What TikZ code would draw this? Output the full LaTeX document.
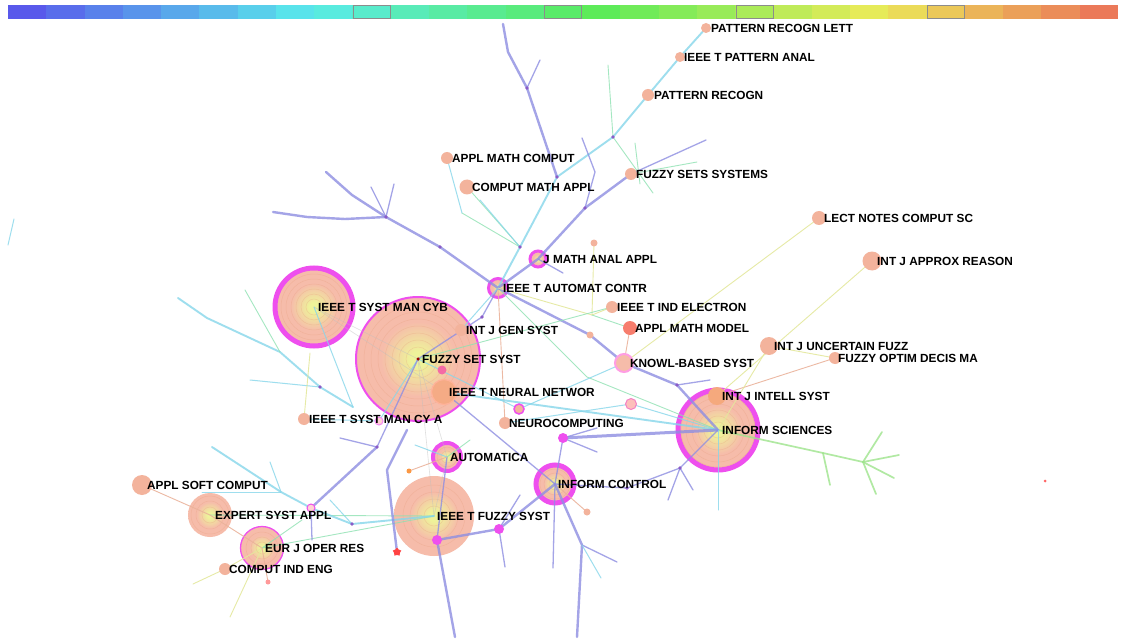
\documentclass[tikz,border=0pt]{standalone}
\usepackage{fontspec}
\setmainfont{Liberation Sans}
\usetikzlibrary{shapes.geometric}
\definecolor{peach}{HTML}{F6BCAA}
\definecolor{peachd}{HTML}{F3B39C}
\definecolor{ycen}{HTML}{EEF39A}
\definecolor{mag}{HTML}{EE4FEE}
\definecolor{epur}{HTML}{8E8EE2}
\definecolor{ecyan}{HTML}{86D6EA}
\definecolor{egrn}{HTML}{8EE2B2}
\definecolor{elgr}{HTML}{9EE48C}
\definecolor{eyel}{HTML}{E4E89C}
\definecolor{eora}{HTML}{EAB29A}
\definecolor{ringc}{HTML}{E8A080}
\definecolor{dotc}{HTML}{8A5CC8}
\pgfdeclareradialshading{treering}{\pgfpoint{0bp}{0bp}}{color(0bp)=(ycen); color(3bp)=(ycen); color(15bp)=(peach); color(50bp)=(peach)}
\pgfdeclarelayer{bg}
\pgfdeclarelayer{edgelayer}
\pgfsetlayers{bg,edgelayer,main}
\tikzset{
  jn/.style={circle, inner sep=0pt, fill=peachd},
  big/.style={circle, inner sep=0pt, shade, shading=treering},
  treeline/.style={draw=ringc, line width=0.5pt, opacity=0.35},
  lab/.style={anchor=west, inner sep=0pt, font=\bfseries\fontsize{11.8}{12}\selectfont, text=black},
  purp/.style={draw=epur, line width=2.4pt, line cap=round, line join=round, opacity=0.8},
  purpthin/.style={draw=epur, line width=1.3pt, line cap=round, line join=round, opacity=0.8},
  cyn/.style={draw=ecyan, line width=1.9pt, line cap=round, line join=round, opacity=0.8},
  cynthin/.style={draw=ecyan, line width=1pt, line cap=round, opacity=0.8},
  grn/.style={draw=elgr, line width=1.7pt, line cap=round, line join=round, opacity=0.8},
  grnthin/.style={draw=egrn, line width=0.9pt, line cap=round, opacity=0.8},
  yel/.style={draw=eyel, line width=0.9pt, line cap=round, opacity=0.9},
  ora/.style={draw=eora, line width=0.9pt, line cap=round, opacity=0.9},
  faint/.style={draw=black!25, line width=0.6pt, opacity=0.5},
  jd/.style={circle, inner sep=0pt, minimum size=3.6pt, fill=dotc},
}
\begin{document}
\begin{tikzpicture}[x=1pt,y=-1pt]
\useasboundingbox (0,0) rectangle (1124,639);
\begin{pgfonlayer}{bg}
\fill[white] (0,0) rectangle (1124,639);
% colour bar
\foreach \i in {0,...,28}{
  \pgfmathsetmacro\hh{(240-8.1*\i)/360}
  \definecolor{barc}{hsb}{\hh,0.62,0.92}
  \fill[barc] ({8+\i*38.276},5) rectangle ++(38.6,14);
}
\foreach \i in {9,14,19,24}
  \draw[black!45, line width=0.7pt] ({8+\i*38.276+0.6},5.5) rectangle ++(37.2,13);
% big nodes
\node[big, minimum size=78pt, draw=mag, line width=5pt] (smc) at (314,307) {};
\foreach \r in {8pt,13pt,18pt,23pt,28pt,33pt} \draw[treeline] (smc.center) circle (\r);
\node[big, minimum size=124pt, draw=mag, line width=2pt] (fs) at (418,359) {};
\foreach \r in {12pt,19pt,26pt,33pt,40pt,47pt,54pt} \draw[treeline] (fs.center) circle (\r);
\node[big, minimum size=80pt, draw=mag, line width=5pt] (ins) at (718,430) {};
\foreach \r in {8pt,14pt,20pt,26pt,32pt,37pt} \draw[treeline] (ins.center) circle (\r);
\node[big, minimum size=80pt] (ifs) at (434,516) {};
\foreach \r in {10pt,17pt,24pt,31pt} \draw[treeline] (ifs.center) circle (\r);
\node[big, minimum size=44pt] (esa) at (210,515) {};
\foreach \r in {8pt,14pt,19pt} \draw[treeline] (esa.center) circle (\r);
\node[big, minimum size=43pt, draw=mag, line width=1.3pt] (ejor) at (262,548) {};
\foreach \r in {6pt,11pt,16pt} \draw[treeline] (ejor.center) circle (\r);
\node[big, minimum size=38pt, draw=mag, line width=5pt] (inc) at (555,484) {};
\foreach \r in {6pt,11pt,15pt} \draw[treeline] (inc.center) circle (\r);
\node[big, minimum size=28pt, draw=mag, line width=4pt] (aut) at (447,457) {};
\foreach \r in {6pt,10pt} \draw[treeline] (aut.center) circle (\r);
\node[big, minimum size=19pt, draw=mag, line width=3pt] (iac) at (498,288) {};
\node[big, minimum size=16pt, draw=mag, line width=3pt] (jmaa) at (538,259) {};
\end{pgfonlayer}
% small journal nodes
\node[jn, minimum size=10pt] (prl) at (706,28) {};
\node[jn, minimum size=10pt] (ppa) at (680,57) {};
\node[jn, minimum size=12pt] (prg) at (648,95) {};
\node[jn, minimum size=12pt] (amc) at (447,158) {};
\node[jn, minimum size=15pt] (cma) at (467,187) {};
\node[jn, minimum size=12pt] (fss2) at (631,174) {};
\node[jn, minimum size=14pt] (lncs) at (819,218) {};
\node[jn, minimum size=19pt] (ijar) at (872,261) {};
\node[jn, minimum size=12pt] (ijgs) at (461,330) {};
\node[jn, minimum size=12pt] (iie) at (612,307) {};
\node[jn, minimum size=14pt, fill=red!30!peachd] (amm) at (630,328) {};
\node[jn, minimum size=18pt, fill=peach, draw=pink!60!magenta!70, line width=2pt] (kbs) at (624,363) {};
\node[jn, minimum size=25pt, fill=orange!15!peachd, draw=orange!50!red!40, line width=1.2pt] (nn) at (444,392) {};
\node[jn, minimum size=12pt] (smca) at (304,419) {};
\node[jn, minimum size=12pt] (neu) at (505,423) {};
\node[jn, minimum size=18pt] (ijuf) at (769,346) {};
\node[jn, minimum size=12pt] (fodm) at (835,358) {};
\node[jn, minimum size=18pt, fill=orange!20!peachd] (ijis) at (717,396) {};
\node[jn, minimum size=20pt] (asc) at (142,485) {};
\node[jn, minimum size=12pt] (cie) at (225,569) {};
% minor nodes
\node[circle, inner sep=0pt, minimum size=10pt, fill=mag] (m1) at (563,438) {};
\node[circle, inner sep=0pt, minimum size=10pt, fill=mag] (m2) at (499,529) {};
\node[circle, inner sep=0pt, minimum size=10pt, fill=mag] (m3) at (437,540) {};
\node[circle, inner sep=0pt, minimum size=11pt, fill=pink!80!peach, draw=magenta!50, line width=1pt] (pr1) at (631,404) {};
\node[circle, inner sep=0pt, minimum size=10pt, fill=peachd, draw=mag, line width=1.5pt] (pr2) at (519,409) {};
\node[circle, inner sep=0pt, minimum size=8pt, fill=pink!70, draw=mag, line width=1pt] (pr3) at (311,508) {};
\node[circle, inner sep=0pt, minimum size=8pt, fill=pink!70, draw=mag!70, line width=1pt] (pr4) at (379,421) {};
\node[circle, inner sep=0pt, minimum size=9pt, fill=magenta!45!pink] (pk1) at (442,370) {};
\node[jn, minimum size=7pt] (sd1) at (594,243) {};
\node[jn, minimum size=7pt] (sd2) at (590,335) {};
\node[jn, minimum size=7pt] (sd3) at (587,512) {};
\node[jn, minimum size=5pt, fill=orange!60!peach] (sd4) at (409,471) {};
\node[circle, inner sep=0pt, minimum size=5pt, fill=pink!80!red] (sd5) at (268,582) {};
\node[circle, inner sep=0pt, minimum size=3pt, fill=red!60] (sd6) at (1045,481) {};
\node[star, star points=5, inner sep=0pt, minimum size=9pt, fill=red!65!pink] (st) at (397,552) {};
% junction dots
\node[jd] (c1) at (386,217) {};
\node[jd] (c2) at (520,247) {};
\node[jd] (c3) at (557,177) {};
\node[jd] (c5) at (613,137) {};
\node[jd] (c6) at (585,208) {};
\node[jd] (c9) at (440,247) {};
\node[jd] (c11) at (482,317) {};
\node[jd] (c13) at (677,385) {};
\node[jd] (s4) at (320,387) {};
\node[jd] (s9) at (377,447) {};
\node[jd] (s28) at (627,488) {};
\node[jd] (s29) at (680,468) {};
\node[jd] (s16) at (352,524) {};
\node[jd] (c4) at (527,88) {};
% free ends and bends
\coordinate (c1a) at (273,212); \coordinate (c1e) at (345,219); \coordinate (c1f) at (307,217);
\coordinate (c1b) at (326,172); \coordinate (c1g) at (352,195);
\coordinate (c1c) at (371,187); \coordinate (c1d) at (394,184);
\coordinate (c4a) at (508,52); \coordinate (c4b) at (540,60); \coordinate (c4c) at (503,24);
\coordinate (c5a) at (608,65); \coordinate (c5b) at (653,193);
\coordinate (c5c) at (635,143); \coordinate (c5d) at (640,184);
\coordinate (c6a) at (582,138); \coordinate (c6b) at (595,172);
\coordinate (c7) at (706,140); \coordinate (c8) at (697,162);
\coordinate (c10) at (462,213); \coordinate (c10c) at (480,200);
\coordinate (c12b) at (563,273); \coordinate (c14) at (587,377);
\coordinate (c15) at (592,315); \coordinate (c13a) at (710,380);
\coordinate (g1) at (823,453); \coordinate (g2) at (863,462); \coordinate (g3) at (830,485);
\coordinate (g4) at (882,432); \coordinate (g5) at (899,455); \coordinate (g6) at (894,478); \coordinate (g7) at (876,494);
\coordinate (s26) at (597,428); \coordinate (s27) at (597,452);
\coordinate (s30) at (668,500); \coordinate (s31) at (693,490); \coordinate (s32) at (718,510);
\coordinate (s33) at (520,495); \coordinate (s34) at (505,567); \coordinate (s35) at (455,637);
\coordinate (s37) at (553,568); \coordinate (s38) at (582,545); \coordinate (s39) at (577,637);
\coordinate (s40) at (617,562); \coordinate (s41) at (601,578);
\coordinate (s1) at (178,298); \coordinate (s2) at (207,318); \coordinate (s3) at (280,352);
\coordinate (s5) at (353,407); \coordinate (s6) at (245,290); \coordinate (s7) at (250,380);
\coordinate (c16) at (310,353); \coordinate (s8) at (340,438);
\coordinate (s11) at (281,492); \coordinate (s12) at (212,447); \coordinate (s13) at (270,462);
\coordinate (s14) at (202,492); \coordinate (s15) at (312,540); \coordinate (s17) at (330,500);
\coordinate (s19) at (387,470); \coordinate (s20) at (407,430); \coordinate (s21) at (302,520);
\coordinate (s23) at (193,584); \coordinate (s24) at (230,617);
\coordinate (s42) at (14,219); \coordinate (s43) at (8,245);
\coordinate (a1) at (415,445); \coordinate (a2) at (470,440);
\begin{pgfonlayer}{edgelayer}
% faint links among big nodes
\draw[faint] (smc.center) -- (fs.center);
\draw[faint] (smc.center) -- (nn);
\draw[faint] (fs.center) -- (ifs.center);
\draw[faint] (fs.center) -- (aut.center);
\draw[faint] (ifs.center) -- (aut.center);
\draw[cynthin] (smc.center) -- (s5);
\draw[grnthin] (ifs.center) -- (esa.center);
\draw[grnthin] (ejor.center) -- (ifs.center);
% upper-left purple tree
\draw[purp] (iac.center) -- (c9.center) -- (c1.center);
\draw[purp] (c1.center) -- (c1e) -- (c1f) -- (c1a);
\draw[purp] (c1.center) -- (c1g) -- (c1b);
\draw[purpthin] (c1.center) -- (c1c);
\draw[purpthin] (c1.center) -- (c1d);
% central trunk
\draw[cyn] (iac.center) -- (c2.center) -- (c3.center);
\draw[purp] (c3.center) -- (c4.center) -- (c4a) -- (c4c);
\draw[purpthin] (c4.center) -- (c4b);
\draw[cyn] (c3.center) -- (c5.center) -- (prg.center) -- (ppa.center) -- (prl.center);
\draw[grnthin] (c5.center) -- (c5a);
\draw[grnthin] (c5.center) -- (c5b);
\draw[grnthin] (c5c) -- (c5d);
\draw[grnthin] (fss2.center) -- (c8);
\draw[purp] (iac.center) -- (jmaa.center) -- (c6.center) -- (fss2.center);
\draw[purpthin] (fss2.center) -- (c7);
\draw[purpthin] (c6.center) -- (c6b) -- (c6a);
\draw[purpthin] (jmaa.center) -- (c12b);
\draw[grnthin] (cma.center) -- (c2.center);
\draw[grnthin] (c10) -- (c2.center);
\draw[cynthin] (c10c) -- (c2.center);
\draw[cynthin] (amc.center) -- (c10);
% from IEEE T AUTOMAT CONTR
\draw[purpthin] (iac.center) -- (c11.center) -- (fs.center);
\draw[ora] (iac.center) -- (neu.center);
\draw[grnthin] (iac.center) -- (c14) -- (ins.center);
\draw[purp] (iac.center) -- (sd2.center) -- (kbs.center);
\draw[yel] (sd1.center) -- (c15) -- (iie.center);
\draw[yel] (iac.center) -- (c15);
\draw[grnthin] (c15) -- (amm.center);
\draw[ora] (amm.center) -- (kbs.center);
\draw[purp] (kbs.center) -- (c13.center) -- (ins.center);
\draw[purpthin] (c13.center) -- (c13a);
\draw[yel] (kbs.center) -- (lncs.center);
\draw[grnthin] (fs.center) -- (iie.center);
\draw[cynthin] (ijgs.center) -- (iac.center);
% right side
\draw[yel] (ijar.center) -- (ijis.center);
\draw[yel] (ijuf.center) -- (fodm.center);
\draw[ora] (fodm.center) -- (ijis.center);
\draw[yel] (ijuf.center) -- (ins.center);
\draw[grn] (ins.center) -- (g1) -- (g2);
\draw[grn] (g1) -- (g3);
\draw[grn] (g2) -- (g4);
\draw[grn] (g2) -- (g5);
\draw[grn] (g2) -- (g6);
\draw[grn] (g2) -- (g7);
% middle
\draw[cyn] (nn.center) -- (ins.center);
\draw[cynthin] (neu.center) -- (pr1.center) -- (ins.center);
\draw[cynthin] (fs.center) -- (pr2.center) -- (kbs.center);
\draw[purp, line width=3pt] (m1.center) -- (ins.center);
\draw[purpthin] (m1.center) -- (s26);
\draw[purpthin] (m1.center) -- (s27);
\draw[purpthin] (m1.center) -- (inc.center);
\draw[purpthin] (nn.center) -- (inc.center);
\draw[purpthin] (inc.center) -- (s28.center) -- (s29.center) -- (ins.center);
\draw[purpthin] (s29.center) -- (s30);
\draw[purpthin] (s29.center) -- (s31);
\draw[cynthin] (ins.center) -- (s32);
\draw[ora] (inc.center) -- (sd3.center);
\draw[purp] (inc.center) -- (m2.center) -- (m3.center);
\draw[purpthin] (m2.center) -- (s33);
\draw[purpthin] (m2.center) -- (s34);
\draw[purp] (m3.center) -- (s35);
\draw[purpthin] (aut.center) -- (m3.center);
\draw[purpthin] (inc.center) -- (s37);
\draw[purp] (inc.center) -- (s38) -- (s39);
\draw[purpthin] (s38) -- (s40);
\draw[cynthin] (s38) -- (s41);
\draw[cynthin] (aut.center) -- (a1);
\draw[ora] (aut.center) -- (sd4.center);
\draw[grnthin] (aut.center) -- (a2);
% left side
\draw[cyn] (s1) -- (s2) -- (s3) -- (s4.center) -- (s5);
\draw[grnthin] (s6) -- (s3);
\draw[cynthin] (s7) -- (s4.center);
\draw[yel] (c16) -- (smca.center);
\draw[cynthin] (smca.center) -- (pr4.center) -- (fs.center);
\draw[purpthin] (s8) -- (s9.center) -- (fs.center);
\draw[purp] (s9.center) -- (pr3.center);
\draw[cyn] (pr3.center) -- (s11) -- (s12);
\draw[cynthin] (s11) -- (s13);
\draw[cynthin] (s11) -- (s14);
\draw[purpthin] (pr3.center) -- (s15);
\draw[cyn] (pr3.center) -- (s16.center) -- (ifs.center);
\draw[cynthin] (s16.center) -- (s17);
\draw[purp] (st.center) -- (s19) -- (s20);
\draw[grnthin] (ejor.center) -- (s21);
\draw[yel] (cie.center) -- (s23);
\draw[yel] (ejor.center) -- (s24);
\draw[ora] (asc.center) -- (esa.center) -- (ejor.center);
\draw[yel] (ejor.center) -- (cie.center);
\draw[ora] (ejor.center) -- (sd5.center);
\draw[cynthin] (s42) -- (s43);
\end{pgfonlayer}
\node[circle, inner sep=0pt, minimum size=3.5pt, fill=red!60!black] (fsc) at (418,359) {};
% labels
\node[lab] (l1) at (711,28) {PATTERN RECOGN LETT};
\node[lab] (l2) at (684,57) {IEEE T PATTERN ANAL};
\node[lab] (l3) at (654,95) {PATTERN RECOGN};
\node[lab] (l4) at (452,158) {APPL MATH COMPUT};
\node[lab] (l5) at (472,187) {COMPUT MATH APPL};
\node[lab] (l6) at (636,174) {FUZZY SETS SYSTEMS};
\node[lab] (l7) at (824,218) {LECT NOTES COMPUT SC};
\node[lab] (l8) at (877,261) {INT J APPROX REASON};
\node[lab] (l9) at (543,259) {J MATH ANAL APPL};
\node[lab] (l10) at (503,288) {IEEE T AUTOMAT CONTR};
\node[lab] (l11) at (318,307) {IEEE T SYST MAN CYB};
\node[lab] (l12) at (466,330) {INT J GEN SYST};
\node[lab] (l13) at (617,307) {IEEE T IND ELECTRON};
\node[lab] (l14) at (635,328) {APPL MATH MODEL};
\node[lab] (l15) at (422,359) {FUZZY SET SYST};
\node[lab] (l16) at (630,363) {KNOWL-BASED SYST};
\node[lab] (l17) at (449,392) {IEEE T NEURAL NETWOR};
\node[lab] (l18) at (309,419) {IEEE T SYST MAN CY A};
\node[lab] (l19) at (509,423) {NEUROCOMPUTING};
\node[lab] (l20) at (774,346) {INT J UNCERTAIN FUZZ};
\node[lab] (l21) at (838,358) {FUZZY OPTIM DECIS MA};
\node[lab] (l22) at (722,396) {INT J INTELL SYST};
\node[lab] (l23) at (722,430) {INFORM SCIENCES};
\node[lab] (l24) at (450,457) {AUTOMATICA};
\node[lab] (l25) at (558,484) {INFORM CONTROL};
\node[lab] (l26) at (437,516) {IEEE T FUZZY SYST};
\node[lab] (l27) at (147,485) {APPL SOFT COMPUT};
\node[lab] (l28) at (215,515) {EXPERT SYST APPL};
\node[lab] (l29) at (265,548) {EUR J OPER RES};
\node[lab] (l30) at (229,569) {COMPUT IND ENG};
\end{tikzpicture}
\end{document}
